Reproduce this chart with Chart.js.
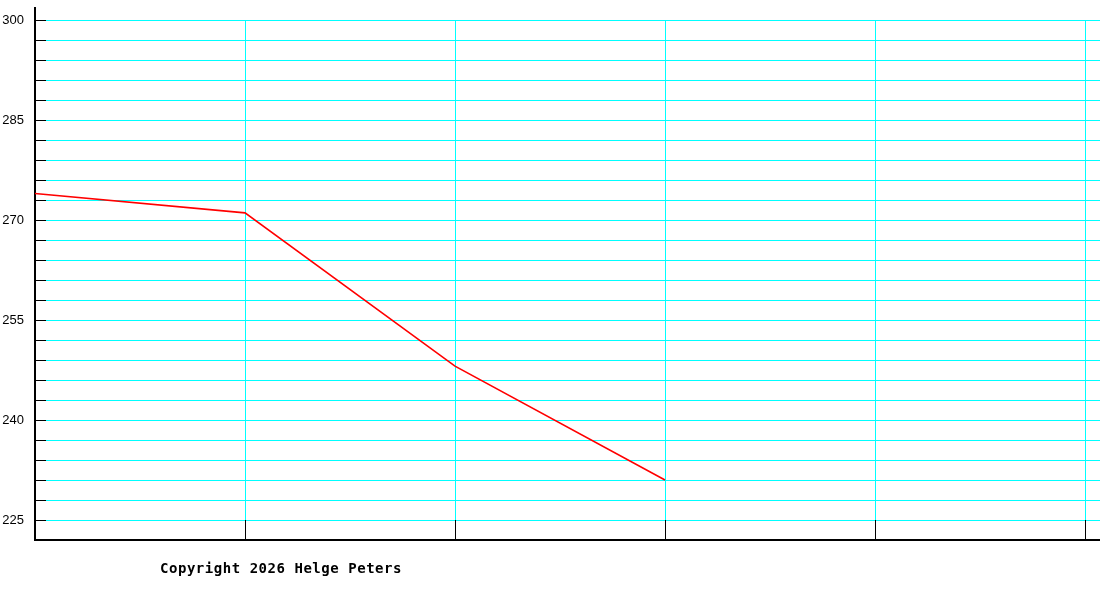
<!DOCTYPE html>
<html>
<head>
<meta charset="utf-8">
<script src="https://cdn.jsdelivr.net/npm/chart.js@4/dist/chart.umd.min.js"></script>
<style>
    html, body { margin: 0; padding: 0; background: #fff; overflow: hidden; }
    #contenedor { position: relative; width: 1100px; height: 600px; overflow: hidden; }
    #grafico { display: block; }
    #copyright {
        position: absolute; left: 160px; top: 560px; white-space: nowrap;
        font-family: "DejaVu Sans Mono", "Liberation Mono", monospace;
        font-weight: bold; font-size: 14px; color: #000;
    }
</style>
</head>
<body>
<div id="contenedor">
    <canvas id="grafico" width="1100" height="600"></canvas>
    <div id="copyright"><span id="copy-texto">Copyright 2026 Helge Peters</span></div>
</div>
<script>
// --- DATOS ---
const periodos = ['1', '2', '3', '4', '5', '6'];
const valores = [274.0, 271.1, 248.1, 231.0];
const yMin = 222;
const yMax = 302;
const yPaso = 3;
const yEtiquetas = [225, 240, 255, 270, 285, 300];

// --- REJILLA PROPIA (ticks hacia dentro, como el original) ---
const rejilla = {
    id: 'rejilla',
    beforeDatasetsDraw(chart) {
        const { ctx, chartArea } = chart;
        const xs = chart.scales.x;
        const ys = chart.scales.y;
        const izq = Math.round(chartArea.left);
        const abajo = Math.round(chartArea.bottom);
        const arriba = Math.round(chartArea.top);
        const ancho = chart.width;
        const largoTick = 11;
        ctx.save();

        // lineas horizontales
        ys.ticks.forEach(t => {
            if (t.value <= yMin) return;
            const y = Math.floor(ys.getPixelForValue(t.value));
            ctx.fillStyle = '#00ffff';
            ctx.fillRect(izq + largoTick, y, ancho - izq - largoTick, 1);
            ctx.fillStyle = '#000';
            ctx.fillRect(izq, y, largoTick, 1);
        });

        // lineas verticales
        const yArriba = Math.floor(ys.getPixelForValue(yEtiquetas[yEtiquetas.length - 1]));
        const yBase = Math.floor(ys.getPixelForValue(yEtiquetas[0]));
        periodos.forEach((p, i) => {
            if (i === 0) return;
            const x = Math.round(xs.getPixelForValue(i));
            ctx.fillStyle = '#00ffff';
            ctx.fillRect(x, yArriba, 1, yBase - yArriba);
            ctx.fillStyle = '#000';
            ctx.fillRect(x, yBase, 1, abajo - yBase);
        });

        // ejes
        ctx.fillStyle = '#000';
        ctx.fillRect(izq - 1, arriba, 2, abajo - arriba + 1);
        ctx.fillRect(izq - 1, abajo - 1, ancho - izq + 1, 2);
        ctx.restore();
    }
};

const ctx = document.getElementById('grafico').getContext('2d');
new Chart(ctx, {
    type: 'line',
    data: {
        labels: periodos,
        datasets: [{
            data: valores,
            borderColor: '#ff0000',
            borderWidth: 1.6,
            pointRadius: 0,
            tension: 0,
            fill: false
        }]
    },
    options: {
        responsive: false,
        animation: false,
        layout: { padding: { top: 7, right: 15, bottom: 60, left: 0 } },
        plugins: { legend: { display: false }, tooltip: { enabled: false } },
        scales: {
            x: {
                offset: false,
                grid: { display: false, drawTicks: false },
                border: { display: false },
                ticks: { display: false },
                afterFit: (scale) => {
                    scale.height = 0;
                    scale.paddingLeft = 0;
                    scale.paddingRight = 0;
                }
            },
            y: {
                min: yMin,
                max: yMax,
                grid: { display: false, drawTicks: false },
                border: { display: false },
                ticks: {
                    stepSize: yPaso,
                    includeBounds: false,
                    autoSkip: false,
                    padding: 11,
                    color: '#000',
                    font: { family: 'Liberation Sans', size: 13 },
                    callback: (v) => yEtiquetas.includes(v) ? String(v) : ''
                },
                afterFit: (scale) => {
                    scale.width = 35;
                    scale.paddingTop = 0;
                    scale.paddingBottom = 0;
                }
            }
        }
    },
    plugins: [rejilla]
});

// ajustar el ancho del texto del copyright al del original
const copy = document.getElementById('copy-texto');
const anchoNatural = copy.getBoundingClientRect().width;
copy.style.letterSpacing = ((242 - anchoNatural) / copy.textContent.length) + 'px';
</script>
</body>
</html>
